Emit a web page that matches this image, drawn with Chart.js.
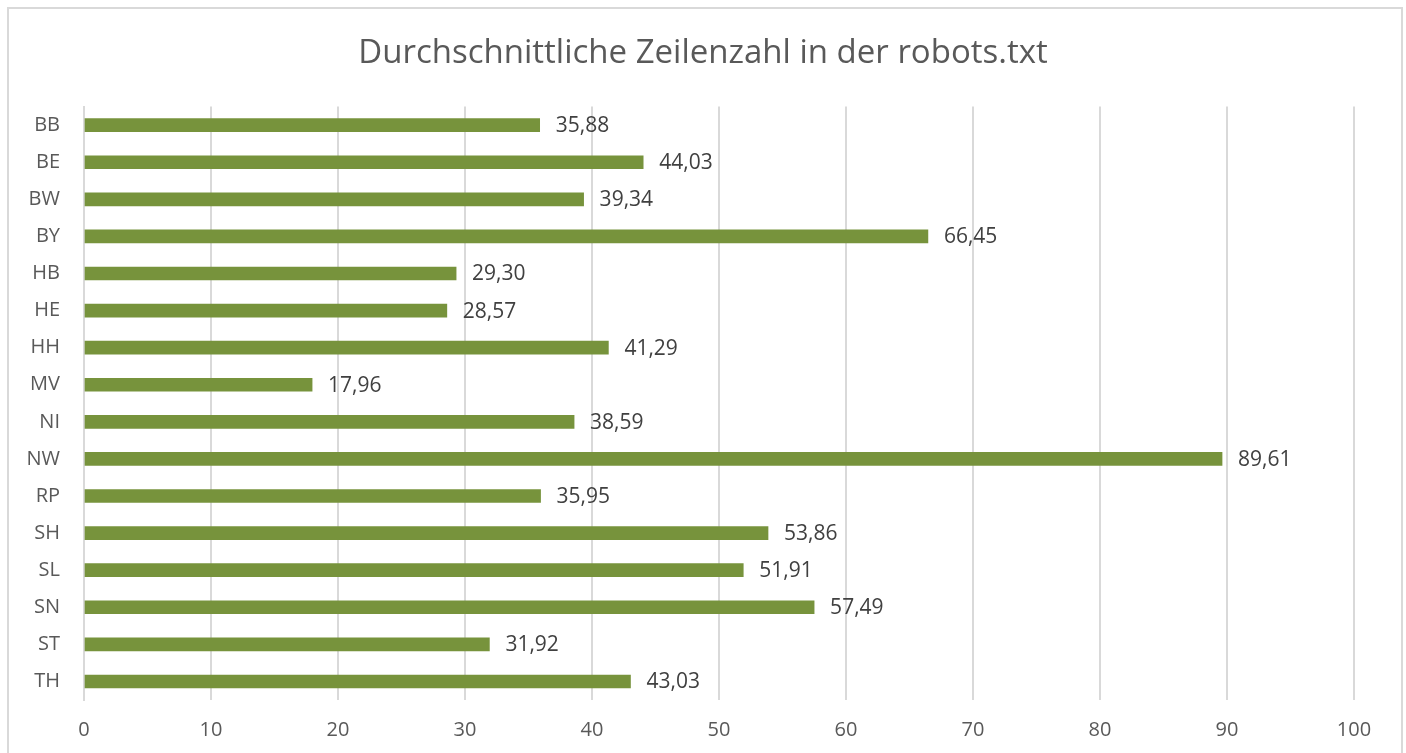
<!DOCTYPE html>
<html>
<head>
<meta charset="utf-8">
<script src="https://cdn.jsdelivr.net/npm/chart.js@4.4.1/dist/chart.umd.min.js"></script>
<style>
  html, body { margin: 0; padding: 0; background: #fff; }
  #frame { position: absolute; left: 7px; top: 7px; width: 1392px; height: 760px; border: 2px solid #d9d9d9; }
  #wrap { position: absolute; left: 0; top: 0; width: 1406px; height: 753px; }
</style>
</head>
<body>
<div id="frame"></div>
<div id="wrap"><canvas id="robotsChart" width="1406" height="753"></canvas></div>
<script>
// Bundesländer und durchschnittliche Zeilenzahl
const states = ['BB', 'BE', 'BW', 'BY', 'HB', 'HE', 'HH', 'MV', 'NI', 'NW', 'RP', 'SH', 'SL', 'SN', 'ST', 'TH'];
const avgLines = [35.88, 44.03, 39.34, 66.45, 29.30, 28.57, 41.29, 17.96, 38.59, 89.61, 35.95, 53.86, 51.91, 57.49, 31.92, 43.03];
const xTicks = [0, 10, 20, 30, 40, 50, 60, 70, 80, 90, 100];

const fontFamily = '"Open Sans", "DejaVu Sans", sans-serif';

// value labels at the end of each bar
const barLabels = {
    id: 'barLabels',
    afterDatasetsDraw(chart) {
        const ctx = chart.ctx;
        const meta = chart.getDatasetMeta(0);
        ctx.save();
        ctx.font = '21px ' + fontFamily;
        ctx.fillStyle = '#404040';
        ctx.textAlign = 'left';
        ctx.textBaseline = 'middle';
        meta.data.forEach((bar, i) => {
            const txt = avgLines[i].toFixed(2).replace('.', ',');
            ctx.fillText(txt, bar.x + 16, bar.y + 1);
        });
        ctx.restore();
    }
};

const robotsChart = new Chart(document.getElementById('robotsChart'), {
    type: 'bar',
    data: {
        labels: states,
        datasets: [{
            label: 'Zeilen',
            data: avgLines,
            backgroundColor: '#77933C',
            barThickness: 13
        }]
    },
    options: {
        indexAxis: 'y',
        responsive: false,
        animation: false,
        layout: { padding: 0 },
        plugins: {
            legend: { display: false },
            tooltip: { enabled: false },
            title: {
                display: true,
                text: 'Durchschnittliche Zeilenzahl in der robots.txt',
                color: '#595959',
                font: { family: fontFamily, size: 33, weight: 'normal' },
                padding: { top: 34, bottom: 33 }
            }
        },
        scales: {
            x: {
                min: 0,
                max: 100,
                afterBuildTicks: (axis) => { axis.ticks = xTicks.map(v => ({ value: v })); },
                afterFit: (axis) => { axis.height = 53; },
                grid: { color: '#d9d9d9', lineWidth: 2, drawTicks: false },
                border: { display: false },
                ticks: { color: '#595959', padding: 18, font: { family: fontFamily, size: 20 } }
            },
            y: {
                afterFit: (axis) => { axis.width = 84; },
                grid: { display: false, drawTicks: false },
                border: { display: true, color: '#d9d9d9', width: 2 },
                ticks: { color: '#595959', padding: 24, font: { family: fontFamily, size: 20 } }
            },
            // empty right margin so the title stays centred on the page
            yRight: {
                type: 'linear',
                axis: 'y',
                position: 'right',
                afterFit: (axis) => { axis.width = 52; },
                grid: { display: false, drawTicks: false },
                border: { display: false },
                ticks: { display: false }
            }
        }
    },
    plugins: [barLabels]
});
</script>
</body>
</html>
